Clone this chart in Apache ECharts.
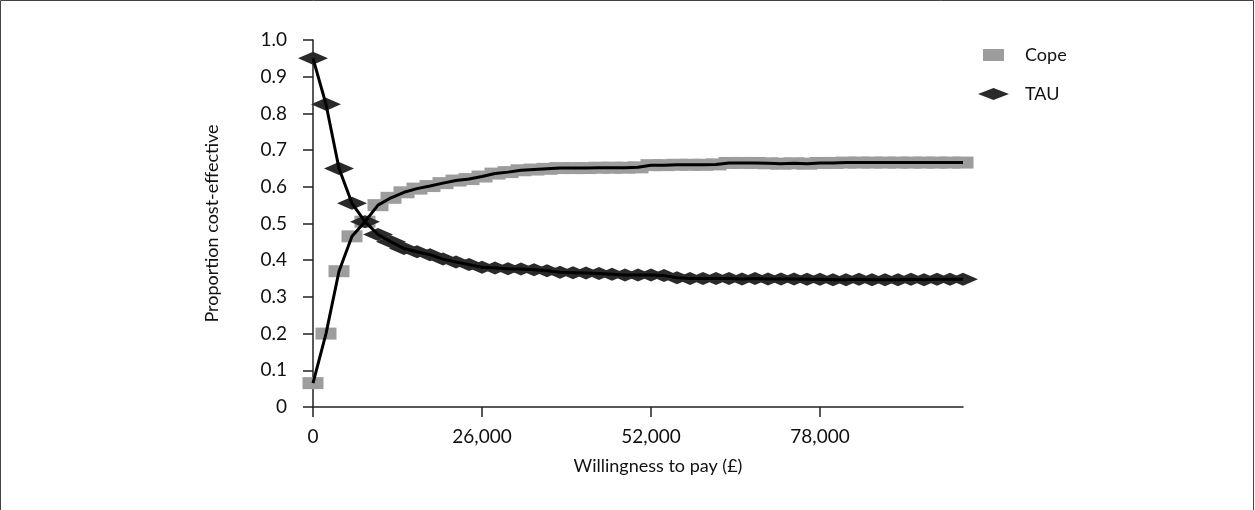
<!DOCTYPE html>
<html>
<head>
<meta charset="utf-8">
<script src="https://cdn.jsdelivr.net/npm/echarts@6/dist/echarts.min.js"></script>
<style>
  html, body { margin: 0; padding: 0; background: #fff; }
  #chart { width: 1255px; height: 510px; }
</style>
</head>
<body>
<div id="chart"></div>
<script>
// Willingness to pay (GBP), one point every 2,000
const wtp = [
  0, 2000, 4000, 6000, 8000, 10000, 12000, 14000, 16000, 18000,
  20000, 22000, 24000, 26000, 28000, 30000, 32000, 34000, 36000, 38000,
  40000, 42000, 44000, 46000, 48000, 50000, 52000, 54000, 56000, 58000,
  60000, 62000, 64000, 66000, 68000, 70000, 72000, 74000, 76000, 78000,
  80000, 82000, 84000, 86000, 88000, 90000, 92000, 94000, 96000, 98000,
  100000
];

// Probability each option is cost-effective
const cope = [
  0.065, 0.200, 0.370, 0.465, 0.505, 0.550, 0.570, 0.585, 0.595, 0.602,
  0.610, 0.617, 0.621, 0.628, 0.636, 0.640, 0.645, 0.647, 0.649, 0.651,
  0.651, 0.651, 0.652, 0.652, 0.652, 0.653, 0.659, 0.659, 0.660, 0.660,
  0.660, 0.661, 0.665, 0.665, 0.665, 0.664, 0.663, 0.664, 0.663, 0.665,
  0.665, 0.666, 0.666, 0.666, 0.666, 0.666, 0.666, 0.666, 0.666, 0.666,
  0.666
];
const tau = [
  0.950, 0.825, 0.650, 0.555, 0.505, 0.470, 0.450, 0.432, 0.423, 0.415,
  0.403, 0.395, 0.388, 0.381, 0.379, 0.377, 0.376, 0.374, 0.371, 0.367,
  0.366, 0.365, 0.364, 0.362, 0.360, 0.360, 0.360, 0.358, 0.352, 0.350,
  0.350, 0.350, 0.350, 0.349, 0.350, 0.349, 0.349, 0.349, 0.348, 0.348,
  0.347, 0.347, 0.348, 0.347, 0.347, 0.347, 0.348, 0.347, 0.348, 0.348,
  0.348
];

const xTicks = [0, 26000, 52000, 78000];
const yMin = 0, yMax = 1, yStep = 0.1;

const FONT = 'Lato';
const pairs = (ys) => wtp.map((x, i) => [x, ys[i]]);

const chart = echarts.init(document.getElementById('chart'), null, { renderer: 'canvas' });

chart.setOption({
  animation: false,
  backgroundColor: '#ffffff',
  textStyle: { fontFamily: FONT, color: '#111' },
  graphic: [{
    type: 'rect',
    shape: { x: 0.5, y: 0.5, width: 1253, height: 560 },
    style: { fill: 'none', stroke: '#444', lineWidth: 1 },
    silent: true
  }],
  grid: { left: 313, right: 292, top: 40, bottom: 103, containLabel: false },
  legend: [
    {
      data: [{ name: 'Cope', icon: 'rect' }],
      left: 978, top: 40, orient: 'vertical',
      itemWidth: 21, itemHeight: 12,
      textStyle: { fontFamily: FONT, fontSize: 18, color: '#111', lineHeight: 20, padding: [0, 0, 0, 16] },
      selectedMode: false
    },
    {
      data: [{ name: 'TAU', icon: 'diamond' }],
      left: 973, top: 79, orient: 'vertical',
      itemWidth: 31, itemHeight: 12,
      textStyle: { fontFamily: FONT, fontSize: 18, color: '#111', lineHeight: 20, padding: [0, 0, 0, 11] },
      selectedMode: false
    }
  ],
  xAxis: {
    type: 'value',
    min: 0, max: 100000,
    name: 'Willingness to pay (£)',
    nameLocation: 'middle',
    nameGap: 50,
    nameTextStyle: { fontFamily: FONT, fontSize: 18, color: '#111', padding: [0, 0, 0, 40] },
    axisLine: { show: true, onZero: false, lineStyle: { color: '#222', width: 1.5 } },
    axisTick: { show: true, inside: false, length: 10, customValues: xTicks, lineStyle: { color: '#222', width: 1.5 } },
    axisLabel: {
      customValues: xTicks,
      margin: 20,
      fontFamily: FONT, fontSize: 19, color: '#111',
      formatter: (v) => v.toLocaleString('en-GB')
    },
    splitLine: { show: false }
  },
  yAxis: {
    type: 'value',
    min: yMin, max: yMax, interval: yStep,
    name: 'Proportion cost-effective',
    nameLocation: 'middle',
    nameGap: 92,
    nameTextStyle: { fontFamily: FONT, fontSize: 18, color: '#111' },
    axisLine: { show: true, lineStyle: { color: '#222', width: 1.5 } },
    axisTick: { show: true, inside: false, length: 10, lineStyle: { color: '#222', width: 1.5 } },
    axisLabel: {
      margin: 26,
      fontFamily: FONT, fontSize: 19, color: '#111',
      formatter: (v) => (v === 0 ? '0' : v.toFixed(1))
    },
    splitLine: { show: false }
  },
  series: [
    {
      name: 'Cope',
      type: 'scatter',
      data: pairs(cope),
      symbol: 'rect',
      symbolSize: [21, 12],
      itemStyle: { color: '#9d9d9d', opacity: 1 },
      z: 2
    },
    {
      name: 'TAU',
      type: 'scatter',
      data: pairs(tau),
      symbol: 'diamond',
      symbolSize: [30, 13],
      itemStyle: { color: '#2a2a2a', opacity: 1 },
      z: 3
    },
    {
      name: 'Cope trend',
      type: 'line',
      data: pairs(cope),
      showSymbol: false,
      lineStyle: { color: '#000', width: 3 },
      z: 5
    },
    {
      name: 'TAU trend',
      type: 'line',
      data: pairs(tau),
      showSymbol: false,
      lineStyle: { color: '#000', width: 3 },
      z: 5
    }
  ]
});
</script>
</body>
</html>
